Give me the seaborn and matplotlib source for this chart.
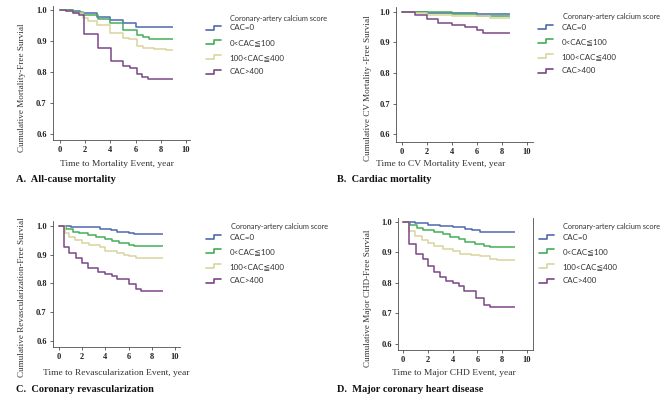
#!/usr/bin/env python3
"""Kaplan-Meier style survival curves by coronary-artery calcium score (4 panels)."""

import matplotlib
matplotlib.use("Agg")
import matplotlib.pyplot as plt
from matplotlib.lines import Line2D
from matplotlib.legend_handler import HandlerBase
import pandas as pd
import seaborn as sns

# ── palette / groups ────────────────────────────────────────────────
GROUPS = ["CAC=0", "0<CAC\u2266100", "100<CAC\u2266400", "CAC>400"]
COLORS = ["#5068ae", "#45ad58", "#d9d59e", "#7b4686"]
LEGEND_TITLE = "Coronary-artery calcium score"

# ── data: event times (years) and survival at each step ─────────────
# A. all-cause mortality
A_CAC0_T = [0, 1.05, 1.6, 2.9, 4.0, 5.0, 6.0, 9.0]
A_CAC0_S = [1.0, 0.997, 0.989, 0.978, 0.968, 0.957, 0.944, 0.944]
A_LOW_T = [0, 1.0, 1.85, 3.0, 4.0, 5.0, 6.1, 6.6, 7.1, 9.0]
A_LOW_S = [1.0, 0.995, 0.983, 0.971, 0.957, 0.935, 0.919, 0.912, 0.908, 0.908]
A_MID_T = [0, 0.5, 1.0, 1.85, 2.25, 2.9, 4.0, 5.0, 5.5, 6.1, 6.6, 7.5, 8.4, 9.0]
A_MID_S = [1.0, 0.997, 0.99, 0.973, 0.966, 0.952, 0.927, 0.909, 0.906, 0.884, 0.879, 0.873, 0.871, 0.871]
A_HIGH_T = [0, 0.5, 1.05, 1.5, 1.92, 3.0, 4.05, 5.0, 5.55, 6.1, 6.5, 7.0, 9.0]
A_HIGH_S = [1.0, 0.997, 0.992, 0.983, 0.922, 0.876, 0.836, 0.819, 0.813, 0.793, 0.785, 0.778, 0.778]

# B. cardiac mortality
B_CAC0_T = [0, 2.0, 4.0, 6.0, 8.6]
B_CAC0_S = [1.0, 0.997, 0.995, 0.993, 0.993]
B_LOW_T = [0, 2.0, 4.0, 6.0, 7.0, 8.6]
B_LOW_S = [1.0, 0.998, 0.992, 0.988, 0.985, 0.985]
B_MID_T = [0, 1.0, 2.0, 4.0, 6.0, 7.0, 8.6]
B_MID_S = [1.0, 0.995, 0.99, 0.988, 0.985, 0.98, 0.98]
B_HIGH_T = [0, 1.04, 1.97, 2.9, 3.97, 5.04, 5.97, 6.5, 8.6]
B_HIGH_S = [1.0, 0.99, 0.977, 0.965, 0.957, 0.949, 0.941, 0.93, 0.93]

# C. coronary revascularization
C_CAC0_T = [0, 1.0, 3.5, 4.5, 5.0, 6.0, 6.5, 9.0]
C_CAC0_S = [1.0, 0.995, 0.99, 0.985, 0.98, 0.975, 0.972, 0.972]
C_LOW_T = [0, 0.6, 1.2, 1.7, 2.5, 3.2, 4.0, 4.6, 5.2, 6.0, 6.5, 9.0]
C_LOW_S = [1.0, 0.99, 0.98, 0.975, 0.968, 0.962, 0.955, 0.948, 0.942, 0.935, 0.93, 0.93]
C_MID_T = [0, 0.5, 0.9, 1.4, 2.0, 2.6, 3.5, 4.0, 5.0, 5.6, 6.0, 6.6, 9.0]
C_MID_S = [1.0, 0.975, 0.962, 0.952, 0.94, 0.932, 0.925, 0.912, 0.905, 0.9, 0.895, 0.89, 0.89]
C_HIGH_T = [0, 0.43, 0.85, 1.5, 2.0, 2.5, 3.4, 4.0, 4.6, 5.0, 6.0, 6.6, 7.1, 9.0]
C_HIGH_S = [1.0, 0.928, 0.907, 0.888, 0.872, 0.853, 0.841, 0.833, 0.826, 0.815, 0.799, 0.78, 0.772, 0.772]

# D. major coronary heart disease
D_CAC0_T = [0, 1.0, 2.0, 3.0, 4.0, 5.0, 5.6, 6.2, 7.0, 9.0]
D_CAC0_S = [1.0, 0.995, 0.99, 0.988, 0.983, 0.978, 0.972, 0.968, 0.966, 0.966]
D_LOW_T = [0, 0.6, 1.1, 1.6, 2.5, 3.2, 3.8, 4.5, 5.0, 5.8, 6.5, 7.0, 9.0]
D_LOW_S = [1.0, 0.99, 0.98, 0.973, 0.968, 0.962, 0.95, 0.943, 0.935, 0.928, 0.92, 0.917, 0.917]
D_MID_T = [0, 0.5, 1.0, 1.5, 2.0, 2.5, 3.2, 4.0, 4.6, 5.5, 6.2, 7.0, 7.6, 9.0]
D_MID_S = [1.0, 0.97, 0.955, 0.94, 0.93, 0.92, 0.91, 0.905, 0.895, 0.892, 0.887, 0.88, 0.876, 0.876]
D_HIGH_T = [0, 0.5, 1.05, 1.6, 2.05, 2.5, 3.0, 3.5, 4.06, 4.5, 4.9, 5.9, 6.5, 7.0, 9.0]
D_HIGH_S = [1.0, 0.927, 0.894, 0.879, 0.854, 0.837, 0.818, 0.807, 0.799, 0.79, 0.774, 0.752, 0.729, 0.721, 0.721]

Y_TICKS = [0.6, 0.7, 0.8, 0.9, 1.0]
X_TICKS = [0, 2, 4, 6, 8, 10]

PANELS = [
    dict(
        series=[(A_CAC0_T, A_CAC0_S), (A_LOW_T, A_LOW_S), (A_MID_T, A_MID_S), (A_HIGH_T, A_HIGH_S)],
        ylabel="Cumulative Mortality-Free Survial",
        xlabel="Time to Mortality Event, year",
        title="A.  All-cause mortality",
    ),
    dict(
        series=[(B_CAC0_T, B_CAC0_S), (B_LOW_T, B_LOW_S), (B_MID_T, B_MID_S), (B_HIGH_T, B_HIGH_S)],
        ylabel="Cumulative CV Mortality -Free Survial",
        xlabel="Time to CV Mortality Event, year",
        title="B.  Cardiac mortality",
    ),
    dict(
        series=[(C_CAC0_T, C_CAC0_S), (C_LOW_T, C_LOW_S), (C_MID_T, C_MID_S), (C_HIGH_T, C_HIGH_S)],
        ylabel="Cumulative Revascularization-Free Survial",
        xlabel="Time to Revascularization Event, year",
        title="C.  Coronary revascularization",
    ),
    dict(
        series=[(D_CAC0_T, D_CAC0_S), (D_LOW_T, D_LOW_S), (D_MID_T, D_MID_S), (D_HIGH_T, D_HIGH_S)],
        ylabel="Cumulative Major CHD-Free Survial",
        xlabel="Time to Major CHD Event, year",
        title="D.  Major coronary heart disease",
    ),
]

# ── layout (pixel boxes on a 671x397 canvas) ────────────────────────
W, H = 671, 397
# axes box (left, top, right, bottom), xlim, ylim
LAYOUT = [
    dict(box=(53, 6, 190, 140), xlim=(-0.56, 10.32), ylim=(0.5806, 1.013),
         ylab=(22, 88), xlab=(117, 164), title=(16, 179), leg=(206, 24.5), legtitle=(230, 18)),
    dict(box=(396, 7, 533, 142), xlim=(-0.48, 10.48), ylim=(0.574, 1.016),
         ylab=(368, 88), xlab=(441, 164), title=(337, 179), leg=(538, 23.5), legtitle=(563, 17)),
    dict(box=(53, 221, 180, 347), xlim=(-0.52, 10.43), ylim=(0.579, 1.017),
         ylab=(22, 297), xlab=(116, 373), title=(16, 389), leg=(206, 233.5), legtitle=(231, 227)),
    dict(box=(398, 218, 533, 350), xlim=(-0.40, 10.48), ylim=(0.580, 1.013),
         ylab=(368, 298), xlab=(454, 373), title=(337, 389), leg=(539, 233.5), legtitle=(563, 227)),
]

SERIF = ["Liberation Serif", "DejaVu Serif"]
SANS = ["Lato", "DejaVu Sans"]
SPINE = "#4d4d4d"


class StepHandler(HandlerBase):
    """Legend glyph shaped like a survival step."""

    def create_artists(self, legend, orig_handle, xdescent, ydescent,
                       width, height, fontsize, trans):
        x0, y0 = -xdescent, -ydescent
        xm = x0 + 0.55 * width
        ln = Line2D([x0, xm, xm, x0 + width],
                    [y0 + 0.15 * height, y0 + 0.15 * height, y0 + 0.85 * height, y0 + 0.85 * height],
                    color=orig_handle.get_color(), lw=1.2, transform=trans)
        return [ln]


def to_frame(series):
    rows = []
    for grp, (ts, ss) in zip(GROUPS, series):
        for t, s in zip(ts, ss):
            rows.append((grp, t, s))
    return pd.DataFrame(rows, columns=["group", "time", "surv"])


sns.set_theme(style="white")
plt.rcParams["font.family"] = SERIF

fig = plt.figure(figsize=(W / 100, H / 100), dpi=100)
fig.patch.set_facecolor("white")


def fx(px):
    return px / W


def fy(py):
    return 1 - py / H


for i, (panel, lay) in enumerate(zip(PANELS, LAYOUT)):
    l, t, r, b = lay["box"]
    ax = fig.add_axes([fx(l), fy(b), (r - l) / W, (b - t) / H])
    df = to_frame(panel["series"])
    sns.lineplot(
        data=df, x="time", y="surv", hue="group", hue_order=GROUPS,
        palette=COLORS, drawstyle="steps-post", estimator=None, legend=False,
        lw=1.1, marker="|", markevery=[-1], markersize=3.5, markeredgewidth=0.8,
        ax=ax,
    )
    ax.set_xlim(*lay["xlim"])
    ax.set_ylim(*lay["ylim"])
    ax.set_xticks(X_TICKS)
    ax.set_yticks(Y_TICKS)
    ax.set_xticklabels([str(v) for v in X_TICKS])
    ax.set_yticklabels([f"{v:.1f}" for v in Y_TICKS])
    ax.set_xlabel("")
    ax.set_ylabel("")
    ax.tick_params(axis="both", direction="out", length=2.5, width=0.6,
                   color=SPINE, labelsize=6, pad=2, labelcolor="#222222",
                   bottom=True, left=True)
    for lbl in ax.get_xticklabels() + ax.get_yticklabels():
        lbl.set_fontweight("bold")
    for side in ["top", "right"]:
        ax.spines[side].set_visible(False)
    if i == 3:
        ax.spines["right"].set_visible(True)
    for side in ["left", "bottom", "right"]:
        ax.spines[side].set_color(SPINE)
        ax.spines[side].set_linewidth(0.6)
    ax.patch.set_alpha(0)

    fig.text(fx(lay["ylab"][0]), fy(lay["ylab"][1]), panel["ylabel"], rotation=90,
             ha="center", va="center", fontsize=6.6, color="#333333", family=SERIF)
    fig.text(fx(lay["xlab"][0]), fy(lay["xlab"][1]), panel["xlabel"],
             ha="center", va="center", fontsize=6.8, color="#333333", family=SERIF)
    fig.text(fx(lay["title"][0]), fy(lay["title"][1]), panel["title"],
             ha="left", va="center", fontsize=7.5, fontweight="bold",
             color="#111111", family=SERIF)

    # legend
    fig.text(fx(lay["legtitle"][0]), fy(lay["legtitle"][1]), LEGEND_TITLE,
             ha="left", va="center", fontsize=5.3, color="#333333", family=SANS)
    handles = ax.get_lines()[:len(GROUPS)]
    leg = ax.legend(
        handles, GROUPS,
        handler_map={Line2D: StepHandler()},
        loc="upper left", bbox_to_anchor=(fx(lay["leg"][0]), fy(lay["leg"][1])),
        bbox_transform=fig.transFigure, frameon=False, borderpad=0,
        borderaxespad=0, handlelength=1.9, handletextpad=1.0,
        labelspacing=0.95, prop={"family": SANS, "size": 5.8},
    )
    for txt in leg.get_texts():
        txt.set_color("#333333")

fig.savefig("out.png", dpi=100, facecolor="white")
plt.close(fig)
